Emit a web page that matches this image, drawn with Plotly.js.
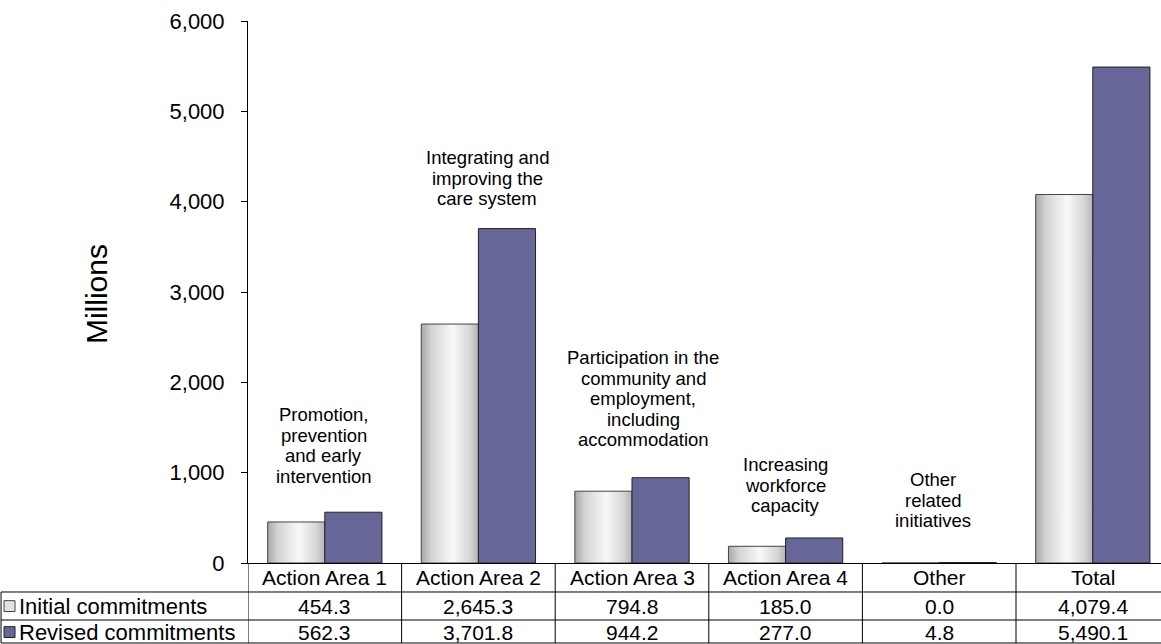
<!DOCTYPE html>
<html>
<head>
<meta charset="utf-8">
<script src="https://cdn.plot.ly/plotly-3.0.1.min.js"></script>
<style>
html,body{margin:0;padding:0;background:#fff;}
#chart{width:1161px;height:644px;}
</style>
</head>
<body>
<div id="chart"></div>
<script>
// ---- data ----
const categories = ["Action Area 1", "Action Area 2", "Action Area 3", "Action Area 4", "Other", "Total"];
const seriesNames = ["Initial commitments", "Revised commitments"];
const initialValues = [454.3, 2645.3, 794.8, 185.0, 0.0, 4079.4];
const revisedValues = [562.3, 3701.8, 944.2, 277.0, 4.8, 5490.1];
const initialLabels = ["454.3", "2,645.3", "794.8", "185.0", "0.0", "4,079.4"];
const revisedLabels = ["562.3", "3,701.8", "944.2", "277.0", "4.8", "5,490.1"];
const areaDescriptions = [
  ["Promotion,", "prevention", "and early", "intervention"],
  ["Integrating and", "improving the", "care system"],
  ["Participation in the", "community and", "employment,", "including", "accommodation"],
  ["Increasing", "workforce", "capacity"],
  ["Other", "related", "initiatives"]
];
const yTickVals = [0, 1000, 2000, 3000, 4000, 5000, 6000];

// ---- style ----
const FONT = "Liberation Sans, Arial, sans-serif";
const INITIAL_COLOR = "#e2e2e2";
const REVISED_COLOR = "#666699";
const LINE = "#000000";
const TABLE_SIZE = 21;

const traces = [
  {type: "bar", name: seriesNames[0], x: categories, y: initialValues,
   marker: {color: INITIAL_COLOR, line: {color: "#444444", width: 1}}, hoverinfo: "x+y"},
  {type: "bar", name: seriesNames[1], x: categories, y: revisedValues,
   marker: {color: REVISED_COLOR, line: {color: "#222222", width: 1}}, hoverinfo: "x+y"}
];

// table geometry (paper units below plot)
const yAxisTop = 0, rowLine1 = -0.0535, rowLine2 = -0.1052, tableBottom = -0.1476;
const headerMid = -0.026, row1Mid = -0.0795, row2Mid = -0.1275;
const tableLeft = -0.2705;

const shapes = [];
const annotations = [];

[rowLine1, rowLine2, tableBottom].forEach(y => {
  shapes.push({type: "line", xref: "paper", yref: "paper", x0: tableLeft, x1: 1.01, y0: y, y1: y,
    line: {color: LINE, width: 1}});
});
shapes.push({type: "line", xref: "paper", yref: "paper", x0: tableLeft, x1: tableLeft, y0: rowLine1, y1: tableBottom,
  line: {color: LINE, width: 1}});
for (let i = 0; i < categories.length; i++) {
  shapes.push({type: "line", xref: "x", yref: "paper", x0: i - 0.5, x1: i - 0.5, y0: yAxisTop, y1: tableBottom,
    line: {color: LINE, width: 1}});
}
[[row1Mid, INITIAL_COLOR, "#444444"], [row2Mid, REVISED_COLOR, "#222222"]].forEach(([ym, fc, lc]) => {
  shapes.push({type: "rect", xref: "paper", yref: "paper", x0: -0.2672, x1: -0.2552, y0: ym - 0.0100, y1: ym + 0.0100,
    fillcolor: fc, line: {color: lc, width: 1}});
});

categories.forEach((c, i) => {
  [[headerMid, c], [row1Mid, initialLabels[i]], [row2Mid, revisedLabels[i]]].forEach(([ym, t]) => {
    annotations.push({xref: "x", yref: "paper", x: i, y: ym, text: t, showarrow: false,
      font: {family: FONT, size: TABLE_SIZE, color: "#000"}, xanchor: "center", yanchor: "middle"});
  });
});
[[row1Mid, seriesNames[0]], [row2Mid, seriesNames[1]]].forEach(([ym, t]) => {
  annotations.push({xref: "paper", yref: "paper", x: -0.2530, y: ym, text: t, showarrow: false,
    font: {family: FONT, size: 22, color: "#000"}, xanchor: "left", yanchor: "middle"});
});

// area description labels, one annotation per line for tight line spacing
const descY = [1301, 4257, 1821, 863, 697];
const descShift = [-1, 9, 11, 0, -6];
const LINE_GAP = 20.5;
areaDescriptions.forEach((lines, i) => {
  const n = lines.length;
  lines.forEach((t, k) => {
    annotations.push({xref: "x", yref: "y", x: i, y: descY[i], xshift: descShift[i],
      yshift: ((n - 1) / 2 - k) * LINE_GAP, text: t, showarrow: false,
      font: {family: FONT, size: 18.5, color: "#000"}, xanchor: "center", yanchor: "middle", align: "center"});
  });
});

annotations.push({xref: "paper", yref: "paper", x: -0.166, y: 0.497, text: "Millions", showarrow: false,
  textangle: -90, font: {family: FONT, size: 30, color: "#000"}, xanchor: "center", yanchor: "middle"});

const layout = {
  width: 1161, height: 644,
  margin: {l: 248, r: 0, t: 21, b: 81},
  paper_bgcolor: "#ffffff", plot_bgcolor: "#ffffff",
  showlegend: false,
  barmode: "group", bargap: 0.256, bargroupgap: 0,
  font: {family: FONT, size: 19, color: "#000"},
  xaxis: {type: "category", range: [-0.5, 5.444], showticklabels: false, ticks: "",
    showline: true, linecolor: LINE, linewidth: 1, showgrid: false, zeroline: false, fixedrange: true},
  yaxis: {range: [0, 6000], tickvals: yTickVals, tickformat: ",", ticks: "outside", ticklen: 6,
    tickcolor: LINE, showline: true, linecolor: LINE, linewidth: 1, showgrid: false, zeroline: false,
    tickfont: {family: FONT, size: 22, color: "#000"}, ticklabelstandoff: 12, fixedrange: true},
  shapes: shapes,
  annotations: annotations
};

Plotly.newPlot("chart", traces, layout, {displayModeBar: false, staticPlot: true}).then(gd => {
  const svg = gd.querySelector("svg.main-svg");
  const ns = "http://www.w3.org/2000/svg";
  let defs = svg.querySelector("defs");
  if (!defs) { defs = document.createElementNS(ns, "defs"); svg.insertBefore(defs, svg.firstChild); }
  const grad = document.createElementNS(ns, "linearGradient");
  grad.setAttribute("id", "initGrad");
  grad.setAttribute("x1", "0"); grad.setAttribute("x2", "1");
  grad.setAttribute("y1", "0"); grad.setAttribute("y2", "0");
  [[0, "#a8a8a8"], [0.18, "#d4d4d4"], [0.55, "#f8f8f8"], [0.85, "#d6d6d6"], [1, "#b4b4b4"]].forEach(([o, c]) => {
    const s = document.createElementNS(ns, "stop");
    s.setAttribute("offset", o); s.setAttribute("stop-color", c);
    grad.appendChild(s);
  });
  defs.appendChild(grad);
  const barTraces = gd.querySelectorAll("g.barlayer g.trace.bars");
  if (barTraces.length) {
    barTraces[0].querySelectorAll("path").forEach(p => { p.style.fill = "url(#initGrad)"; });
  }
});
</script>
</body>
</html>
